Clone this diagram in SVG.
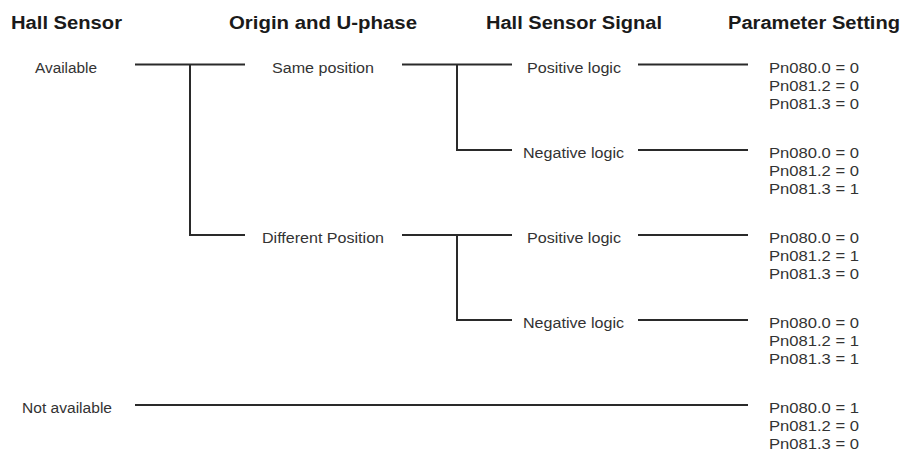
<svg xmlns="http://www.w3.org/2000/svg" width="903" height="457" viewBox="0 0 903 457">
<style>
.h{font-family:"Liberation Sans",Arial,sans-serif;font-weight:bold;font-size:17.5px;fill:#1a1a1a}
.t{font-family:"Liberation Sans",Arial,sans-serif;font-size:15.5px;fill:#333333}
.c{fill:none;stroke:#2a2a2a;stroke-width:2}
</style>
<rect width="903" height="457" fill="#ffffff"/>
<g id="headers">
<text class="h" x="11" y="29" textLength="111" lengthAdjust="spacingAndGlyphs">Hall Sensor</text>
<text class="h" x="229" y="29" textLength="188" lengthAdjust="spacingAndGlyphs">Origin and U-phase</text>
<text class="h" x="486" y="29" textLength="176" lengthAdjust="spacingAndGlyphs">Hall Sensor Signal</text>
<text class="h" x="728" y="29" textLength="172" lengthAdjust="spacingAndGlyphs">Parameter Setting</text>
</g>
<g id="connectors">
<path class="c" d="M135 64.5H245M190 64.5V235H245"/>
<path class="c" d="M402 64.5H512M457 64.5V150H512"/>
<path class="c" d="M402 235H512M457 235V320H512"/>
<path class="c" d="M638 64.5H748M638 150H748M638 235H748M638 320H748"/>
<path class="c" d="M135 405H748"/>
</g>
<g id="available"><text class="t" x="35" y="72.5" textLength="62" lengthAdjust="spacingAndGlyphs">Available</text></g>
<g id="not-available"><text class="t" x="22" y="413" textLength="90" lengthAdjust="spacingAndGlyphs">Not available</text></g>
<g id="same-position"><text class="t" x="272" y="72.5" textLength="102" lengthAdjust="spacingAndGlyphs">Same position</text></g>
<g id="different-position"><text class="t" x="262" y="243" textLength="122" lengthAdjust="spacingAndGlyphs">Different Position</text></g>
<g id="pos1"><text class="t" x="527" y="72.5" textLength="94" lengthAdjust="spacingAndGlyphs">Positive logic</text></g>
<g id="neg1"><text class="t" x="523" y="158" textLength="101" lengthAdjust="spacingAndGlyphs">Negative logic</text></g>
<g id="pos2"><text class="t" x="527" y="243" textLength="94" lengthAdjust="spacingAndGlyphs">Positive logic</text></g>
<g id="neg2"><text class="t" x="523" y="328" textLength="101" lengthAdjust="spacingAndGlyphs">Negative logic</text></g>
<g id="param1" class="t">
<text class="t" x="769" y="72.5" textLength="90" lengthAdjust="spacingAndGlyphs">Pn080.0 = 0</text>
<text class="t" x="769" y="90.5" textLength="90" lengthAdjust="spacingAndGlyphs">Pn081.2 = 0</text>
<text class="t" x="769" y="108.5" textLength="90" lengthAdjust="spacingAndGlyphs">Pn081.3 = 0</text>
</g>
<g id="param2">
<text class="t" x="769" y="158" textLength="90" lengthAdjust="spacingAndGlyphs">Pn080.0 = 0</text>
<text class="t" x="769" y="176" textLength="90" lengthAdjust="spacingAndGlyphs">Pn081.2 = 0</text>
<text class="t" x="769" y="194" textLength="90" lengthAdjust="spacingAndGlyphs">Pn081.3 = 1</text>
</g>
<g id="param3">
<text class="t" x="769" y="243" textLength="90" lengthAdjust="spacingAndGlyphs">Pn080.0 = 0</text>
<text class="t" x="769" y="261" textLength="90" lengthAdjust="spacingAndGlyphs">Pn081.2 = 1</text>
<text class="t" x="769" y="279" textLength="90" lengthAdjust="spacingAndGlyphs">Pn081.3 = 0</text>
</g>
<g id="param4">
<text class="t" x="769" y="328" textLength="90" lengthAdjust="spacingAndGlyphs">Pn080.0 = 0</text>
<text class="t" x="769" y="346" textLength="90" lengthAdjust="spacingAndGlyphs">Pn081.2 = 1</text>
<text class="t" x="769" y="364" textLength="90" lengthAdjust="spacingAndGlyphs">Pn081.3 = 1</text>
</g>
<g id="param5">
<text class="t" x="769" y="413" textLength="90" lengthAdjust="spacingAndGlyphs">Pn080.0 = 1</text>
<text class="t" x="769" y="431" textLength="90" lengthAdjust="spacingAndGlyphs">Pn081.2 = 0</text>
<text class="t" x="769" y="449" textLength="90" lengthAdjust="spacingAndGlyphs">Pn081.3 = 0</text>
</g>
</svg>
